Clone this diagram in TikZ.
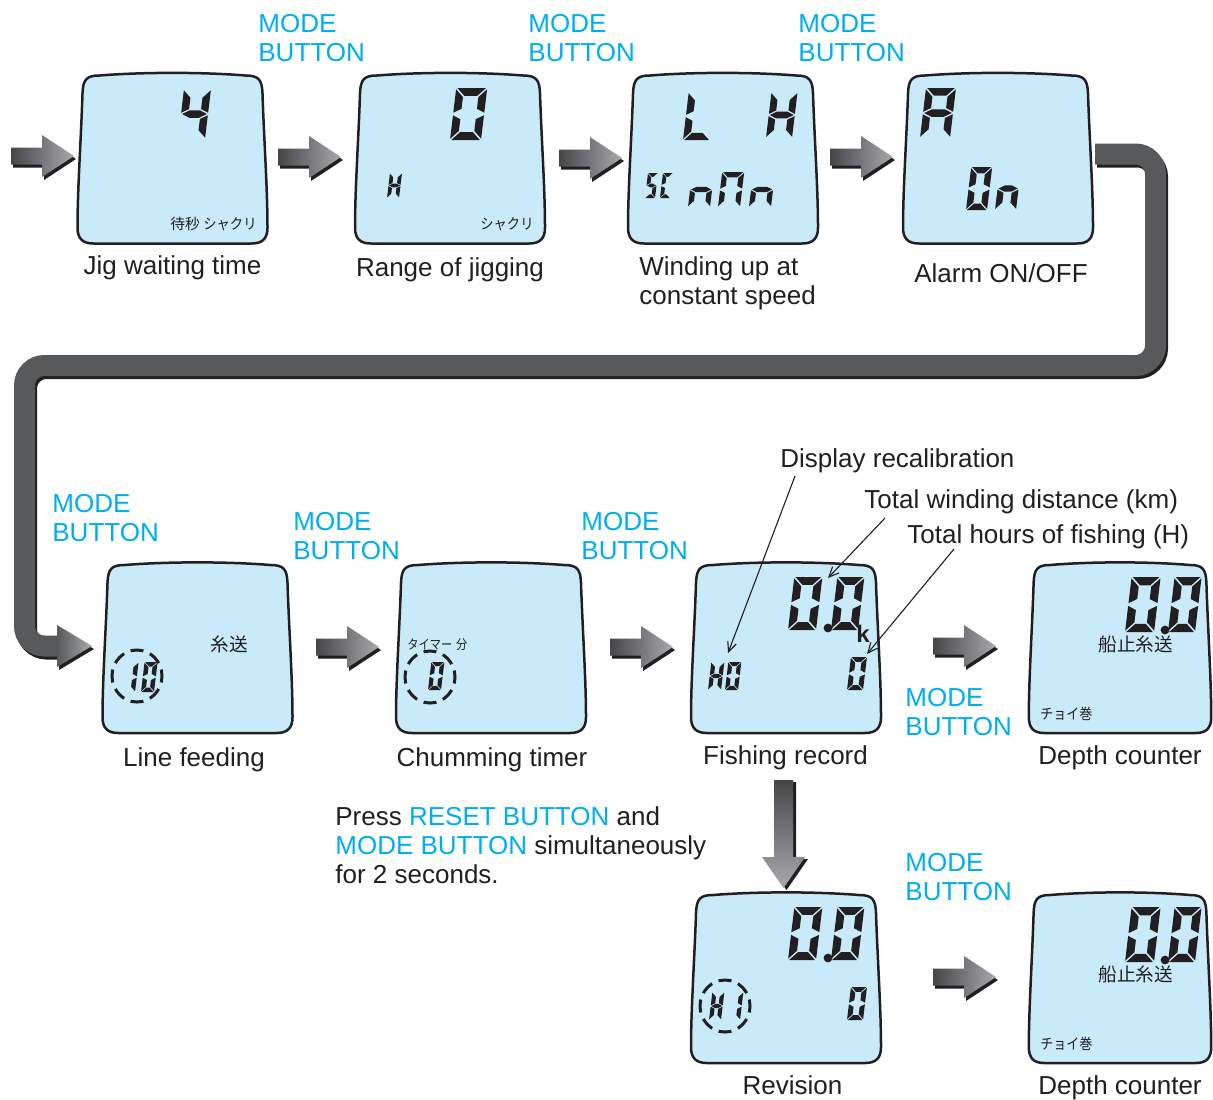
\documentclass[tikz,border=0pt]{standalone}
\usepackage{fontspec}
\setmainfont{Liberation Sans}
\newfontfamily\jp{Noto Sans CJK JP}
\usetikzlibrary{arrows.meta}
\definecolor{modecyan}{RGB}{0,174,239}
\definecolor{lcdfill}{RGB}{200,234,249}
\definecolor{ink}{RGB}{35,31,32}
\definecolor{bandgray}{RGB}{88,89,91}
\definecolor{arrdark}{RGB}{70,70,73}
\definecolor{arrlight}{RGB}{168,169,173}
\tikzset{
  lbl/.style={inner sep=0pt, anchor=base, font=\fontsize{13pt}{14.5pt}\selectfont, text=ink},
  lbll/.style={lbl, anchor=base west},
  modelbl/.style={lbll, text=modecyan},
  jps/.style={inner sep=0pt, anchor=base west, text=ink, font=\jp\fontsize{7.4pt}{8pt}\selectfont},
  jpb/.style={inner sep=0pt, anchor=base west, text=ink, font=\jp\fontsize{9.3pt}{10pt}\selectfont},
  lcd/.style={draw=ink, line width=1.25pt, fill=lcdfill, line join=round},
  callout/.style={draw=ink, line width=0.55pt, -{Straight Barb[length=5pt,width=4.5pt]}},
  ring/.style={draw=ink, line width=1.5pt, dash pattern=on 6.5pt off 3.5pt, dash phase=3.25pt},
  loopband/.style={line width=10.5pt, rounded corners=10pt, line cap=butt},
}
% seven-segment pieces in local units (u:0..1, v:0..2)
\def\lcdsega{\fill (0.04,2) -- (0.96,2) -- ({0.96-\tu},1.7) -- ({0.04+\tu},1.7) -- cycle;}
\def\lcdsegd{\fill (0.04,0) -- (0.96,0) -- ({0.96-\tu},0.3) -- ({0.04+\tu},0.3) -- cycle;}
\def\lcdsegf{\fill (0,1.95) -- (\tu,1.65) -- (\tu,1.2) -- (0,1.05) -- cycle;}
\def\lcdsege{\fill (0,0.05) -- (\tu,0.35) -- (\tu,0.8) -- (0,0.95) -- cycle;}
\def\lcdsegb{\fill (1,1.95) -- ({1-\tu},1.65) -- ({1-\tu},1.2) -- (1,1.05) -- cycle;}
\def\lcdsegc{\fill (1,0.05) -- ({1-\tu},0.35) -- ({1-\tu},0.8) -- (1,0.95) -- cycle;}
\def\lcdsegg{\fill (0.04,1) -- ({0.04+\tu},1.15) -- ({0.96-\tu},1.15) -- (0.96,1) -- ({0.96-\tu},0.85) -- ({0.04+\tu},0.85) -- cycle;}
\newcommand\sseg[5]{%
  \pgfmathsetmacro\tu{0.15*#4/#3}%
  \begin{scope}[shift={(#1,#2)}, x={(#3*0.5pt,0pt)}, y={(0.12*#4*0.25pt,#4*0.25pt)}, fill=ink]
    \foreach \s in {#5}{\csname lcdseg\s\endcsname}
  \end{scope}}
\newcommand\lcdbox[2][]{%
  \begin{scope}[shift={(#2)},#1]
  \draw[lcd] (-73,-84) .. controls (-30,-87.5) and (30,-87.5) .. (73,-84)
    .. controls (86,-84) and (89.5,-80) .. (90,-66)
    .. controls (91.5,-20) and (95,30) .. (95,68)
    .. controls (95,79) and (90,84) .. (79,84)
    -- (-79,84)
    .. controls (-90,84) and (-95,79) .. (-95,68)
    .. controls (-95,30) and (-91.5,-20) .. (-90,-66)
    .. controls (-89.5,-80) and (-86,-84) .. (-73,-84) -- cycle;
  \end{scope}}
\newcommand\blockarrow[1]{%
  \begin{scope}[shift={(#1)}]
  \fill[ink, shift={(2,3)}] (0,-8.5) -- (31,-8.5) -- (31,-21) -- (63,0) -- (31,21) -- (31,8.5) -- (0,8.5) -- cycle;
  \shade[left color=arrdark, right color=arrlight] (0,-8.5) -- (31,-8.5) -- (31,-21) -- (63,0) -- (31,21) -- (31,8.5) -- (0,8.5) -- cycle;
  \end{scope}}
\begin{document}
\begin{tikzpicture}[x=0.5pt, y=-0.5pt]
\useasboundingbox (0,0) rectangle (1213,1099);
\fill[white] (0,0) rectangle (1213,1099);

% ---------- loop connector ----------
\coordinate (lpS) at (1095,154);
\coordinate (lp1) at (1155.5,154);
\coordinate (lp2) at (1155.5,365.5);
\coordinate (lp3) at (24.5,365.5);
\coordinate (lp4) at (24.5,646);
\coordinate (lpE) at (58,646);
\draw[loopband, draw=ink] ([shift={(2,3)}]lpS) -- ([shift={(2,3)}]lp1) -- ([shift={(2,3)}]lp2) -- ([shift={(2,3)}]lp3) -- ([shift={(2,3)}]lp4) -- ([shift={(2,3)}]lpE);
\draw[loopband, draw=bandgray] (lpS) -- (lp1) -- (lp2) -- (lp3) -- (lp4) -- (lpE);
\fill[ink] (59,628) -- (94,649) -- (59,670) -- cycle;
\shade[left color=bandgray, right color=arrlight] (57,625) -- (92,646) -- (57,667) -- cycle;

% ---------- boxes ----------
\coordinate (b1) at (172.5,159.5);
\coordinate (b2) at (450,159.5);
\coordinate (b3) at (723,159.5);
\coordinate (b4) at (998,159.5);
\coordinate (b5) at (197.5,649);
\coordinate (b6) at (491,649);
\coordinate (b7) at (786,649);
\coordinate (b8) at (1120,649);
\coordinate (b9) at (786,979);
\coordinate (b10) at (1120,979);
\lcdbox{b1}\lcdbox{b2}\lcdbox{b3}\lcdbox{b4}
\lcdbox{b5}\lcdbox{b6}\lcdbox{b7}\lcdbox[xscale=0.96]{b8}
\lcdbox{b9}\lcdbox[xscale=0.96]{b10}

% ---------- block arrows ----------
\coordinate (a1) at (11,156);
\coordinate (a2) at (278,157);
\coordinate (a3) at (559,158);
\coordinate (a4) at (830,157);
\coordinate (a6) at (316,647);
\coordinate (a7) at (610,647);
\coordinate (a8) at (933,646);
\coordinate (a10) at (933,977);
\blockarrow{a1}\blockarrow{a2}\blockarrow{a3}\blockarrow{a4}
\blockarrow{a6}\blockarrow{a7}\blockarrow{a8}\blockarrow{a10}
% vertical arrow
\coordinate (va) at (783.5,780);
\begin{scope}[shift={(va)}]
\fill[ink, shift={(3,2)}] (-9.5,0) -- (9.5,0) -- (9.5,77) -- (21.5,77) -- (0,108) -- (-21.5,77) -- (-9.5,77) -- cycle;
\shade[top color=arrdark, bottom color=arrlight] (-9.5,0) -- (9.5,0) -- (9.5,77) -- (21.5,77) -- (0,108) -- (-21.5,77) -- (-9.5,77) -- cycle;
\end{scope}

% ---------- box contents ----------
% box 1
\sseg{178}{139}{27}{50}{f,g,b,c}
\node[jps, anchor=base east] (t1) at (257,229) {待秒 \scalebox{0.9}[1]{シャクリ}};
% box 2
\sseg{450}{140}{31}{52}{a,b,c,d,e,f}
\sseg{387}{198}{12}{25}{f,e,g,b,c}
\node[jps, anchor=base east] (t2) at (534,229) {\scalebox{0.9}[1]{シャクリ}};
% box 3
\sseg{683}{140}{27}{48}{f,e,d}
\sseg{766}{138}{26}{46}{f,e,g,b,c}
\sseg{645}{198}{10}{25}{a,f,g,c,d}
\sseg{660}{198}{10}{25}{a,f,e,d}
\sseg{688}{207}{22}{35}{e,g,c}
\sseg{718}{207}{22}{35}{a,b,c,e,f}
\sseg{749}{207}{22}{35}{e,g,c}
% box 4
\sseg{920}{138}{30}{50}{a,b,c,e,f,g}
\sseg{966}{210}{21}{43}{a,b,c,d,e,f}
\sseg{995}{210}{21}{43}{e,g,c}
% box 5
\draw[ring] (137,676) ellipse [x radius=12.5pt, y radius=13pt];
\sseg{122}{692}{13}{30}{b,c}
\sseg{141}{692}{13}{30}{a,b,c,d,e,f}
\node[jpb] (t5) at (210,651) {糸送};
% box 6
\draw[ring] (430,677) ellipse [x radius=12.5pt, y radius=13pt];
\sseg{428}{690}{13}{28}{a,b,c,d,e,f}
\node[jps] (t6) at (407,649) {\scalebox{0.85}[1]{\fontsize{6.6pt}{7pt}\selectfont タイマー\,\,分}};
% box 7
\sseg{788}{630}{28}{53}{a,b,c,d,e,f}
\sseg{831}{630}{27}{53}{a,b,c,d,e,f}
\fill[ink] (828,628) circle [radius=2.2pt];
\sseg{708}{690}{13}{28}{f,e,g,b,c}
\sseg{725}{690}{13}{28}{a,b,c,d,e,f}
\sseg{847}{690}{16}{33}{a,b,c,d,e,f}
\node[inner sep=0pt, anchor=base west, text=ink, font=\bfseries\fontsize{12pt}{13pt}\selectfont] (k7) at (856,642) {k};
% box 8
\sseg{1125}{632}{29}{55}{a,b,c,d,e,f}
\sseg{1168}{632}{27}{55}{a,b,c,d,e,f}
\fill[ink] (1165,630) circle [radius=2.2pt];
\node[jpb] (t8a) at (1098,651) {船止糸送};
\node[jps] (t8b) at (1040,719) {\scalebox{0.88}[1]{チョイ巻}};
% box 9
\sseg{788}{960}{28}{53}{a,b,c,d,e,f}
\sseg{831}{960}{27}{53}{a,b,c,d,e,f}
\fill[ink] (828,958) circle [radius=2.2pt];
\draw[ring] (725,1006) ellipse [x radius=12.5pt, y radius=13pt];
\sseg{709}{1020}{12}{28}{f,e,g,b,c}
\sseg{728}{1020}{12}{28}{b,c}
\sseg{847}{1020}{16}{33}{a,b,c,d,e,f}
% box 10
\sseg{1125}{962}{29}{55}{a,b,c,d,e,f}
\sseg{1168}{962}{27}{55}{a,b,c,d,e,f}
\fill[ink] (1165,960) circle [radius=2.2pt];
\node[jpb] (t10a) at (1098,981) {船止糸送};
\node[jps] (t10b) at (1040,1049) {\scalebox{0.88}[1]{チョイ巻}};

% ---------- MODE BUTTON labels ----------
\node[modelbl] (m1a) at (258,32) {MODE};  \node[modelbl] (m1b) at (258,61) {BUTTON};
\node[modelbl] (m2a) at (528,32) {MODE};  \node[modelbl] (m2b) at (528,61) {BUTTON};
\node[modelbl] (m3a) at (798,32) {MODE};  \node[modelbl] (m3b) at (798,61) {BUTTON};
\node[modelbl] (m4a) at (52,512) {MODE};  \node[modelbl] (m4b) at (52,541) {BUTTON};
\node[modelbl] (m5a) at (293,530) {MODE}; \node[modelbl] (m5b) at (293,559) {BUTTON};
\node[modelbl] (m6a) at (581,530) {MODE}; \node[modelbl] (m6b) at (581,559) {BUTTON};
\node[modelbl] (m7a) at (905,706) {MODE}; \node[modelbl] (m7b) at (905,735) {BUTTON};
\node[modelbl] (m8a) at (905,871) {MODE}; \node[modelbl] (m8b) at (905,900) {BUTTON};

% ---------- captions ----------
\node[lbl] (c1) at (172.5,274) {Jig waiting time};
\node[lbl] (c2) at (450,276) {Range of jigging};
\node[lbll] (c3a) at (639,275) {Winding up at};
\node[lbll] (c3b) at (639,304) {constant speed};
\node[lbl] (c4) at (1001,282) {Alarm ON/OFF};
\node[lbl] (c5) at (194,766) {Line feeding};
\node[lbl] (c6) at (492,766) {Chumming timer};
\node[lbl] (c7) at (785.5,764) {Fishing record};
\node[lbl] (c8) at (1120,764) {Depth counter};
\node[lbl] (c9) at (792.5,1094) {Revision};
\node[lbl] (c10) at (1120,1094) {Depth counter};

\node[lbll] (p1) at (335,825) {Press \textcolor{modecyan}{RESET BUTTON} and};
\node[lbll] (p2) at (335,854) {\textcolor{modecyan}{MODE BUTTON} simultaneously};
\node[lbll] (p3) at (335,883) {for 2 seconds.};

% ---------- callouts ----------
\node[lbll] (dr) at (780,467) {Display recalibration};
\node[lbll] (tw) at (864,508) {Total winding distance (km)};
\node[lbll] (th) at (907,543) {Total hours of fishing (H)};
\coordinate (drS) at (795,476);
\coordinate (drT) at (728,653);
\coordinate (twS) at (885,518);
\coordinate (twT) at (828,578);
\coordinate (thS) at (954,549);
\coordinate (thT) at (867,654);
\draw[callout] (drS) -- (drT);
\draw[callout] (twS) -- (twT);
\draw[callout] (thS) -- (thT);
\end{tikzpicture}
\end{document}
